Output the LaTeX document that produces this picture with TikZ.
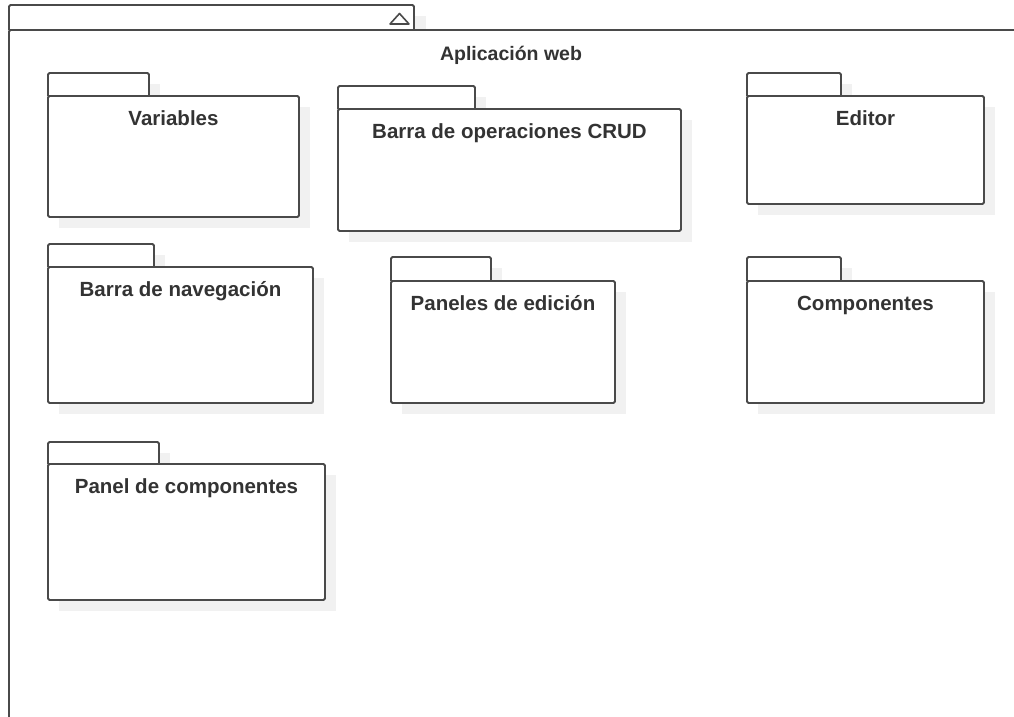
\documentclass[tikz,border=0pt]{standalone}
\usepackage{fontspec}
\setmainfont{Liberation Sans}
\usetikzlibrary{calc}
\definecolor{umlline}{HTML}{4A4A4A}
\definecolor{umltext}{HTML}{333333}
\definecolor{umlshadow}{HTML}{F1F1F1}
\tikzset{
  pkgline/.style={draw=umlline, line width=1.8pt, rounded corners=1.5pt},
  pkgbody/.style={pkgline, fill=white, inner sep=0pt, outer sep=0pt},
  pkgshadow/.style={fill=umlshadow},
  pkgtext/.style={text=umltext, font=\bfseries\fontsize{20.5}{24}\selectfont, anchor=base, inner sep=0pt},
  frametext/.style={text=umltext, font=\bfseries\fontsize{19.5}{23}\selectfont, anchor=base, inner sep=0pt},
}
% #1 name, #2 left, #3 tab top, #4 tab right, #5 body top, #6 right, #7 bottom, #8 title
\newcommand\umlpkg[8]{%
  \fill[pkgshadow] (#2+11,#3+11) rectangle (#4+11,#5+11);
  \fill[pkgshadow] (#2+11,#5+11) rectangle (#6+11,#7+11);
  \draw[pkgline, fill=white] (#2,#5) |- (#4,#3) -- (#4,#5);
  \node[pkgbody, anchor=north west, minimum width={(#6-#2)*1pt}, minimum height={(#7-#5)*1pt}] (#1) at (#2,#5) {};
  \node[pkgtext] (#1-title) at ($(#1.north)+(0,29)$) {#8};
}
\begin{document}
\begin{tikzpicture}[x=1pt, y=-1pt]
  \useasboundingbox (0,0) rectangle (1014,716);
  \begin{scope}
    \clip (0,0) rectangle (1014,716);
    % enclosing package
    \fill[pkgshadow] (20,16) rectangle (426,41);
    \draw[pkgline, fill=white] (9,30) |- (414,5) -- (414,30);
    \node[pkgbody, anchor=north west, minimum width=1012pt, minimum height=700pt] (app) at (9,30) {};
    \draw[draw=umlline, line width=1.6pt, line join=round] (399.5,13.5) -- (409,24) -- (390,24) -- cycle;
    \node[frametext] (app-title) at (511,60) {Aplicación web};
  \end{scope}
  % nested packages
  \umlpkg{vars}{48}{73}{149}{96}{299}{217}{Variables}
  \umlpkg{crud}{338}{86}{475}{109}{681}{231}{Barra de operaciones CRUD}
  \umlpkg{editor}{747}{73}{841}{96}{984}{204}{Editor}
  \umlpkg{nav}{48}{244}{154}{267}{313}{403}{Barra de navegación}
  \umlpkg{panels}{391}{257}{491}{281}{615}{403}{Paneles de edición}
  \umlpkg{comps}{747}{257}{841}{281}{984}{403}{Componentes}
  \umlpkg{comppanel}{48}{442}{159}{464}{325}{600}{Panel de componentes}
\end{tikzpicture}
\end{document}
